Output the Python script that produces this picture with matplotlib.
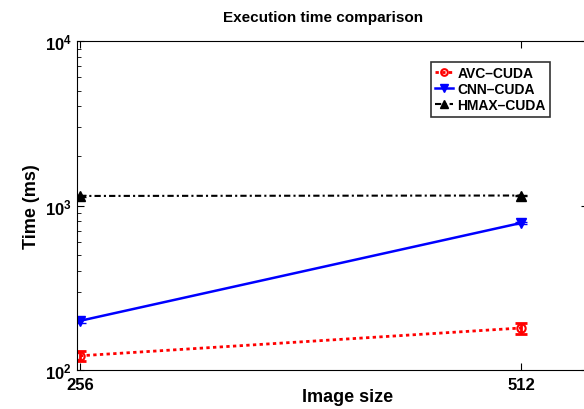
import numpy as np
import matplotlib
matplotlib.use("Agg")
import matplotlib.pyplot as plt

plt.rcParams["font.family"] = ["Liberation Sans", "DejaVu Sans"]
plt.rcParams["font.weight"] = "bold"

sizes = [256, 512]
avc = [122, 180]
avc_err = [8, 14]
cnn = [199, 783]
cnn_err = [6, 15]
hmax = [1143, 1150]
hmax_err = [15, 15]

fig = plt.figure(figsize=(5.84, 4.10), dpi=100)
ax = fig.add_axes([77 / 584, 1 - 371 / 410, (588 - 77) / 584, (371 - 42) / 410])

ax.errorbar(sizes, avc, yerr=avc_err, color="red", ls="none", lw=2,
            elinewidth=2, capsize=4, capthick=2)
ax.errorbar(sizes, cnn, yerr=cnn_err, color="blue", ls="none", lw=1.8,
            capsize=4)
ax.errorbar(sizes, hmax, yerr=hmax_err, color="black", ls="none", lw=1.5,
            capsize=4)
ax.plot(sizes, avc, color="red", ls=(0, (1.2, 1.2)), lw=2, marker="o", mfc="none",
        mew=1.5, ms=6, label="AVC\u2013CUDA")
ax.plot(sizes, cnn, color="blue", ls="-", lw=1.8, marker="v", ms=7,
        label="CNN\u2013CUDA")
ax.plot(sizes, hmax, color="black", ls=(0, (3, 1.5, 1, 1.5)), lw=1.5, marker="^",
        ms=7, label="HMAX\u2013CUDA")

ax.set_yscale("log")
ax.set_ylim(100, 10000)
ax.set_xlim(254.3, 550.9)
ax.set_xticks(sizes)
ax.tick_params(which="both", direction="in", top=True, right=True, labelsize=12)
ax.tick_params(which="major", length=5)
ax.tick_params(which="minor", length=3)
ax.tick_params(axis="x", pad=5)

ax.set_ylabel("Time (ms)", fontsize=13, fontweight="bold")
fig.text(348 / 584, 1 - 398 / 410, "Image size", fontsize=13,
         fontweight="bold", ha="center", va="center")
fig.text(323 / 584, 1 - 18 / 410, "Execution time comparison", fontsize=11,
         fontweight="bold", ha="center", va="center")

leg = ax.legend(loc="upper left", bbox_to_anchor=(431 / 584, 1 - 63 / 410),
                bbox_transform=fig.transFigure, fontsize=10, frameon=True,
                fancybox=False, edgecolor="black", handlelength=1.3,
                handletextpad=0.3, borderpad=0.3, labelspacing=0.15,
                borderaxespad=0, markerscale=0.8)
leg.get_frame().set_linewidth(1.2)

fig.savefig("out.png", dpi=100)
